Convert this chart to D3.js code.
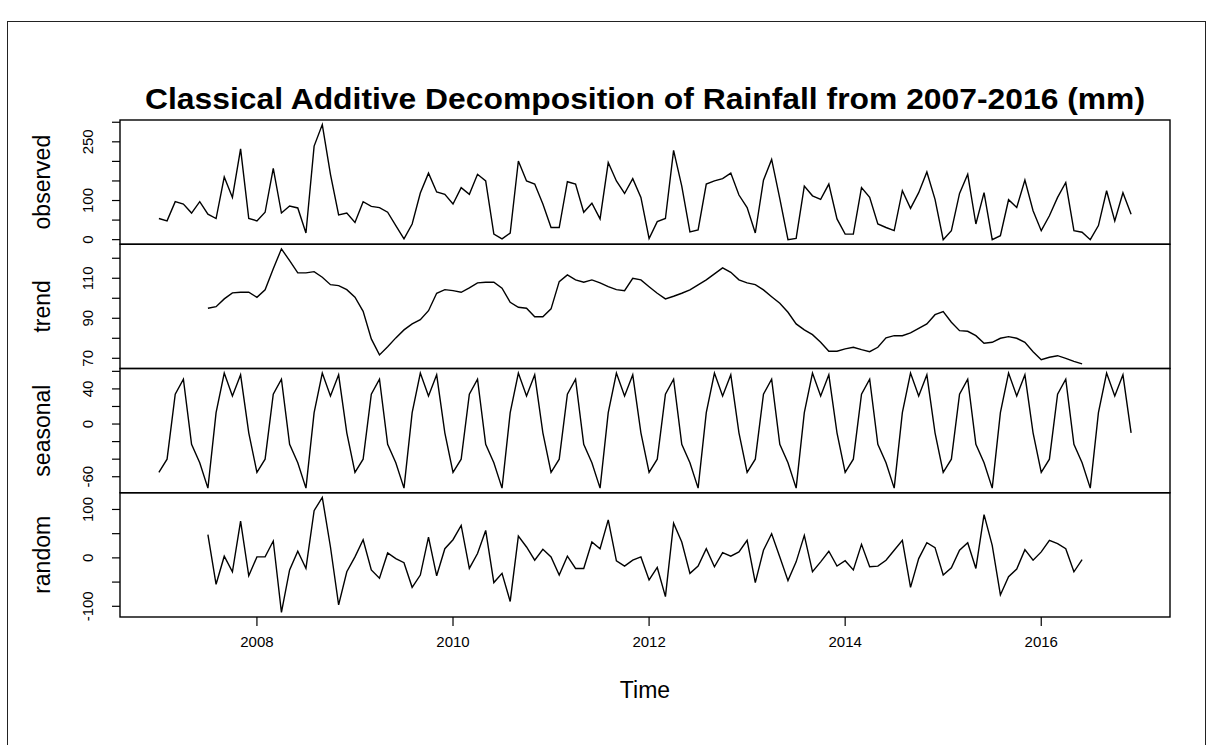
<!DOCTYPE html>
<html>
<head>
<meta charset="utf-8">
<script src="https://cdn.jsdelivr.net/npm/d3@7"></script>
<style>
    body { margin: 0; background: #fff; }
    svg { display: block; }
    text { font-family: "Liberation Sans", Arial, sans-serif; fill: #000; }
</style>
</head>
<body>
<svg id="chart"></svg>
<script>

// monthly series, Jan 2007 .. Dec 2016 (null = no value from the moving average)
const startYear = 2007;

const observed = [
    54, 48, 97, 91, 68, 97, 65, 54, 160, 108, 232, 54,
    48, 70, 182, 68, 86, 81, 17, 239, 294, 167, 63, 68,
    44, 97, 85, 82, 70, 36, 2, 40, 119, 170, 122, 116,
    91, 133, 116, 167, 150, 14, 2, 17, 201, 150, 142, 91,
    31, 31, 148, 142, 70, 93, 53, 197, 150, 118, 156, 108,
    3, 46, 54, 228, 137, 20, 25, 142, 150, 156, 170, 114,
    82, 17, 152, 205, 105, 0, 3, 137, 112, 103, 142, 53,
    14, 14, 133, 108, 40, 31, 23, 125, 80, 120, 173, 103,
    0, 23, 118, 167, 40, 120, 0, 10, 102, 82, 152, 74,
    23, 61, 108, 146, 23, 19, 0, 36, 125, 48, 120, 65
];

const trend = [
    null, null, null, null, null, null, 95, 95.8, 99.7, 102.7, 103, 103,
    100.5, 104.2, 114.7, 124.7, 118.8, 112.7, 112.7, 113.3, 110.5, 106.8, 106.3, 104.3,
    100.5, 93.5, 79.7, 71.7, 75.8, 80.2, 84.2, 87.2, 89.3, 93.8, 102.5, 104.3,
    103.8, 103, 105.2, 107.7, 108, 108, 105, 98, 95.5, 95, 90.8, 90.8,
    94.7, 108.3, 111.7, 109.2, 108, 109.2, 107.7, 105.8, 104.3, 103.8, 110, 109.2,
    105.8, 102.5, 99.7, 101, 102.5, 104.2, 106.7, 109.2, 112.2, 115.2, 113, 109.2,
    107.7, 106.8, 104.2, 100.8, 97.5, 93, 87.2, 84.2, 81.8, 78, 73.5, 73.5,
    74.7, 75.5, 74.3, 73.3, 75.5, 80.2, 81.3, 81.3, 82.7, 85, 87.2, 91.8,
    93.3, 88, 83.8, 83.5, 81.3, 77.5, 78, 80, 80.8, 80, 78, 73.3,
    69.3, 70.5, 71.3, 70, 68.5, 67.2, null, null, null, null, null, null
];

const seasonal = [
    -55, -40, 34, 51, -23, -44, -73, 13, 58, 32, 56, -10,
    -55, -40, 34, 51, -23, -44, -73, 13, 58, 32, 56, -10,
    -55, -40, 34, 51, -23, -44, -73, 13, 58, 32, 56, -10,
    -55, -40, 34, 51, -23, -44, -73, 13, 58, 32, 56, -10,
    -55, -40, 34, 51, -23, -44, -73, 13, 58, 32, 56, -10,
    -55, -40, 34, 51, -23, -44, -73, 13, 58, 32, 56, -10,
    -55, -40, 34, 51, -23, -44, -73, 13, 58, 32, 56, -10,
    -55, -40, 34, 51, -23, -44, -73, 13, 58, 32, 56, -10,
    -55, -40, 34, 51, -23, -44, -73, 13, 58, 32, 56, -10,
    -55, -40, 34, 51, -23, -44, -73, 13, 58, 32, 56, -10
];

const random = [
    null, null, null, null, null, null, 47.8, -54.6, 3.4, -28.7, 75.8, -36.9,
    2, 2, 34.8, -112.6, -25, 13.7, -21.8, 97.6, 125, 22.5, -97, -28.7,
    2, 37.5, -25, -42, 10.2, -1.4, -10, -60.8, -35.5, 43, -37, 19,
    37.5, 66.9, -21.8, 8.9, 56.7, -51, -32, -90, 45, 22.5, -4.8, 17.7,
    2, -35.5, 3.4, -21.8, -21.8, 32.8, 19, 78.5, -6, -17, -4.8, 2,
    -45.7, -19.8, -80, 71.7, 32.8, -32, -17, 19, -18.4, 10.9, 3.4, 12.3,
    36.2, -51.2, 15.7, 49.8, 2, -47, -8.2, 46.4, -28.7, -8.2, 13.7, -17,
    -6, -25, 28, -18.4, -17, -4.8, 15.7, 36.2, -60.8, -1.4, 31.4, 21.2,
    -35.5, -20.5, 15.7, 31.4, -21.8, 89.4, 26, -76.5, -39, -23, 17, -4.8,
    12.3, 36.2, 29.4, 19, -28.7, -3.4, null, null, null, null, null, null
];

// axis ticks: all tick marks, and the ones that carry a label
const observedTicks = [0, 50, 100, 150, 200, 250, 300];
const observedLabels = [0, 100, 250];
const trendTicks = [70, 80, 90, 100, 110, 120];
const trendLabels = [70, 90, 110];
const seasonalTicks = [-60, -40, -20, 0, 20, 40, 60];
const seasonalLabels = [-60, 0, 40];
const randomTicks = [-100, -50, 0, 50, 100];
const randomLabels = [-100, 0, 100];
const yearTicks = [2008, 2010, 2012, 2014, 2016];

const title = "Classical Additive Decomposition of Rainfall from 2007-2016 (mm)";

const panels = [
    { name: "observed", values: observed, ticks: observedTicks, labels: observedLabels },
    { name: "trend", values: trend, ticks: trendTicks, labels: trendLabels },
    { name: "seasonal", values: seasonal, ticks: seasonalTicks, labels: seasonalLabels },
    { name: "random", values: random, ticks: randomTicks, labels: randomLabels },
];

const width = 1213, height = 745;
const frame = { left: 120, right: 1170, top: 120, bottom: 617 };
const panelH = (frame.bottom - frame.top) / panels.length;

const svg = d3.select("#chart").attr("width", width).attr("height", height);

// outer border of the picture
svg.append("rect")
    .attr("x", 7.5).attr("y", 21.5)
    .attr("width", 1198).attr("height", 730)
    .attr("fill", "none").attr("stroke", "#222").attr("stroke-width", 1);

// R style axis range: data range padded by 4% on each side
function padded(ext) {
    const r = ext[1] - ext[0];
    return [ext[0] - 0.04 * r, ext[1] + 0.04 * r];
}

const lastT = startYear + (observed.length - 1) / 12;
const x = d3.scaleLinear()
    .domain(padded([startYear, lastT]))
    .range([frame.left, frame.right]);

panels.forEach(function(p, k) {
    const top = frame.top + k * panelH;
    const y = d3.scaleLinear()
        .domain(padded(d3.extent(p.values.filter(v => v != null))))
        .range([top + panelH, top]);

    const g = svg.append("g").attr("class", "panel");

    const line = d3.line()
        .defined(d => d != null)
        .x((d, i) => x(startYear + i / 12))
        .y(d => y(d));

    g.append("path")
        .datum(p.values)
        .attr("d", line)
        .attr("fill", "none")
        .attr("stroke", "#000")
        .attr("stroke-width", 1.4)
        .attr("stroke-linejoin", "miter");

    g.append("rect")
        .attr("x", frame.left).attr("y", top)
        .attr("width", frame.right - frame.left).attr("height", panelH)
        .attr("fill", "none").attr("stroke", "#000").attr("stroke-width", 1.4);

    // left axis: tick marks and rotated labels
    const ticks = p.ticks.filter(t => y(t) >= top - 0.5 && y(t) <= top + panelH + 0.5);
    g.selectAll("line.tick")
        .data(ticks)
        .enter().append("line")
            .attr("x1", frame.left).attr("x2", frame.left - 8)
            .attr("y1", d => y(d)).attr("y2", d => y(d))
            .attr("stroke", "#000").attr("stroke-width", 1.2);

    g.selectAll("text.tick")
        .data(p.labels)
        .enter().append("text")
            .attr("transform", d => "translate(93," + y(d) + ") rotate(-90)")
            .attr("text-anchor", "middle")
            .attr("font-size", 15)
            .text(d => d);

    g.append("text")
        .attr("transform", "translate(50," + (top + panelH / 2) + ") rotate(-90)")
        .attr("text-anchor", "middle")
        .attr("font-size", 23)
        .text(p.name);
});

// bottom time axis
const xa = svg.append("g");
xa.selectAll("line")
    .data(yearTicks)
    .enter().append("line")
        .attr("x1", d => x(d)).attr("x2", d => x(d))
        .attr("y1", frame.bottom).attr("y2", frame.bottom + 9)
        .attr("stroke", "#000").attr("stroke-width", 1.2);
xa.selectAll("text")
    .data(yearTicks)
    .enter().append("text")
        .attr("x", d => x(d)).attr("y", 647)
        .attr("text-anchor", "middle")
        .attr("font-size", 15)
        .text(d => d);

svg.append("text")
    .attr("x", (frame.left + frame.right) / 2).attr("y", 698)
    .attr("text-anchor", "middle")
    .attr("font-size", 23)
    .text("Time");

svg.append("text")
    .attr("x", (frame.left + frame.right) / 2).attr("y", 109)
    .attr("text-anchor", "middle")
    .attr("font-size", 30)
    .attr("font-weight", "bold")
    .attr("textLength", 1000)
    .attr("lengthAdjust", "spacingAndGlyphs")
    .text(title);

</script>
</body>
</html>
